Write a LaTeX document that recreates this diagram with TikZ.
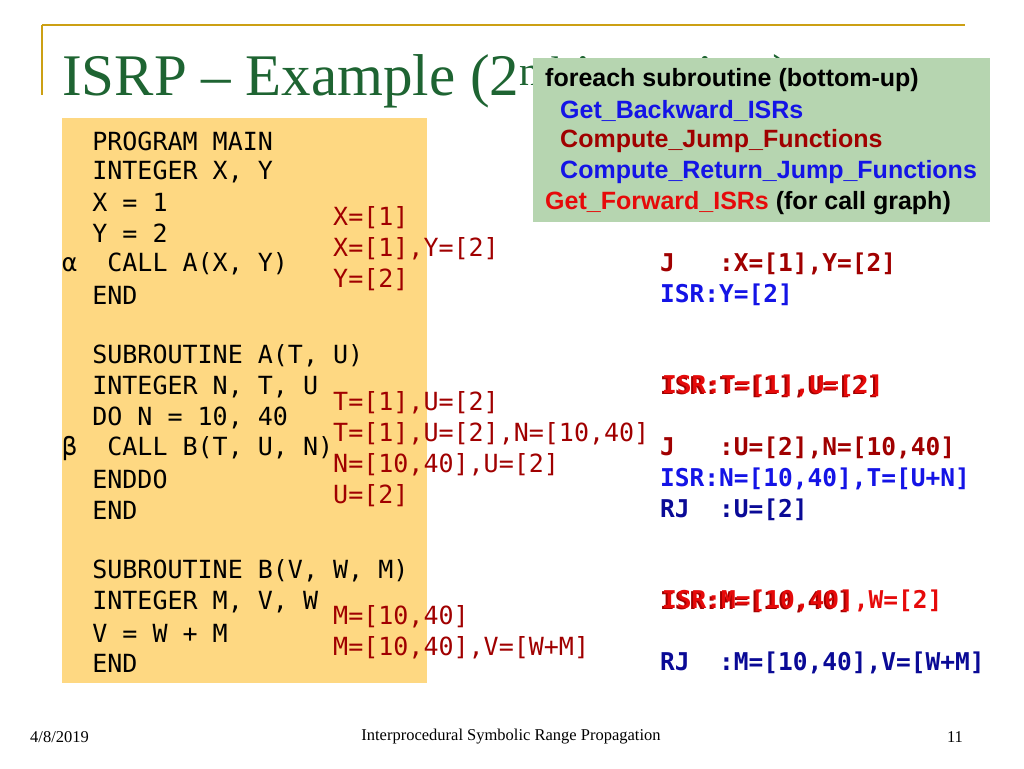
\documentclass[tikz,border=0pt]{standalone}
\usepackage{fontspec}
\setmainfont{Liberation Serif}
\setsansfont{Liberation Sans}
\setmonofont{DejaVu Sans Mono}
\definecolor{slidegold}{RGB}{204,160,20}
\definecolor{titlegreen}{RGB}{30,100,50}
\definecolor{codeyellow}{RGB}{254,216,130}
\definecolor{boxgreen}{RGB}{182,213,176}
\definecolor{darkred}{RGB}{160,0,0}
\definecolor{isrblue}{RGB}{20,20,230}
\definecolor{rjblue}{RGB}{10,10,150}
\definecolor{hotred}{RGB}{230,10,10}
\tikzset{
  code/.style={anchor=west,inner sep=0pt,font=\fontsize{25}{25}\ttfamily},
  ann/.style={code,text=darkred},
  res/.style={code,font=\fontsize{24.5}{25}\ttfamily\bfseries},
  algo/.style={anchor=west,inner sep=0pt,font=\fontsize{25}{25}\sffamily\bfseries},
  foot/.style={inner sep=0pt,font=\fontsize{16.5}{16.5}\selectfont}
}
\begin{document}
\begin{tikzpicture}[x=1pt,y=-1pt]
\useasboundingbox (0,0) rectangle (1024,768);
% slide frame
\draw[slidegold,line width=1.5pt] (42,25) -- (965,25);
\draw[slidegold,line width=1.5pt] (42,25) -- (42,95);
\node[anchor=base west,inner sep=0pt,text=titlegreen,font=\fontsize{59}{59}\selectfont] (title) at (62,95) {ISRP -- Example (2\textsuperscript{nd} iteration)};
% program
\fill[codeyellow] (62,118) rectangle (427,683);
\node[code] (l1) at (62,141) {\ \ PROGRAM MAIN};
\node[code] (l2) at (62,172) {\ \ INTEGER X, Y};
\node[code] (l3) at (62,202) {\ \ X = 1};
\node[code] (l4) at (62,233) {\ \ Y = 2};
\node[code] (l5) at (62,264) {α\ \ CALL A(X, Y)};
\node[code] (l6) at (62,295) {\ \ END};
\node[code] (l7) at (62,356) {\ \ SUBROUTINE A(T, U)};
\node[code] (l8) at (62,387) {\ \ INTEGER N, T, U};
\node[code] (l9) at (62,418) {\ \ DO N = 10, 40};
\node[code] (l10) at (62,448) {β\ \ CALL B(T, U, N)};
\node[code] (l11) at (62,479) {\ \ ENDDO};
\node[code] (l12) at (62,510) {\ \ END};
\node[code] (l13) at (62,571) {\ \ SUBROUTINE B(V, W, M)};
\node[code] (l14) at (62,602) {\ \ INTEGER M, V, W};
\node[code] (l15) at (62,633) {\ \ V = W + M};
\node[code] (l16) at (62,663) {\ \ END};
% ranges
\node[ann] (a1) at (333,218) {X=[1]};
\node[ann] (a2) at (333,249) {X=[1],Y=[2]};
\node[ann] (a3) at (333,280) {Y=[2]};
\node[ann] (a4) at (333,403) {T=[1],U=[2]};
\node[ann] (a5) at (333,434) {T=[1],U=[2],N=[10,40]};
\node[ann] (a6) at (333,465) {N=[10,40],U=[2]};
\node[ann] (a7) at (333,496) {U=[2]};
\node[ann] (a8) at (333,617) {M=[10,40]};
\node[ann] (a9) at (333,648) {M=[10,40],V=[W+M]};
% results
\node[res,text=darkred] (r1) at (660,264) {J\ \ \ :X=[1],Y=[2]};
\node[res,text=isrblue] (r2) at (660,295) {ISR:Y=[2]};
\node[res,text=darkred] (r3) at (660,387) {ISR:T=[1],U=[2]};
\node[res,text=hotred] (r3b) at (662,386) {ISR:T=[1],U=[2]};
\node[res,text=darkred] (r4) at (660,448) {J\ \ \ :U=[2],N=[10,40]};
\node[res,text=isrblue] (r5) at (660,479) {ISR:N=[10,40],T=[U+N]};
\node[res,text=rjblue] (r6) at (660,510) {RJ\ \ :U=[2]};
\node[res,text=darkred] (r7) at (660,602) {ISR:M=[10,40]};
\node[res,text=hotred] (r7b) at (662,601) {ISR:M=[10,40],W=[2]};
\node[res,text=rjblue] (r8) at (660,663) {RJ\ \ :M=[10,40],V=[W+M]};
% algorithm box
\fill[boxgreen] (533,58) rectangle (990,222);
\node[algo] (g1) at (545,80) {foreach subroutine (bottom-up)};
\node[algo,text=isrblue] (g2) at (560,111) {Get\_Backward\_ISRs};
\node[algo,text=darkred] (g3) at (560,141) {Compute\_Jump\_Functions};
\node[algo,text=isrblue] (g4) at (560,172) {Compute\_Return\_Jump\_Functions};
\node[algo] (g5) at (545,203) {\textcolor{hotred}{Get\_Forward\_ISRs} (for call graph)};
% footer
\node[foot,anchor=west] (date) at (30,737) {4/8/2019};
\node[foot] (foottitle) at (511,737) {Interprocedural Symbolic Range Propagation};
\node[foot] (page) at (955,737) {11};
\end{tikzpicture}
\end{document}
